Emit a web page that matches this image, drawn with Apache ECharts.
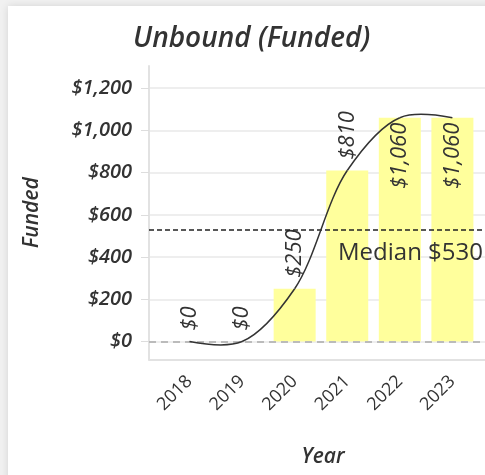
<!DOCTYPE html>
<html>
<head>
<meta charset="utf-8">
<script src="https://cdn.jsdelivr.net/npm/echarts@6/dist/echarts.min.js"></script>
<style>
html,body{margin:0;padding:0;background:#f1f1f1;width:485px;height:475px;overflow:hidden;}
#card{position:absolute;left:8px;top:6px;width:520px;height:520px;background:#fff;box-shadow:0 0 8px rgba(0,0,0,0.12);}
#chart{position:absolute;left:0;top:0;width:485px;height:475px;}
</style>
</head>
<body>
<div id="card"></div>
<div id="chart"></div>
<script>
const years = ['2018', '2019', '2020', '2021', '2022', '2023'];
const funded = [0, 0, 250, 810, 1060, 1060];
const yTicks = [0, 200, 400, 600, 800, 1000, 1200];
const medianValue = 530;
const insideLabelYears = ['2022', '2023'];

const fmt = v => '$' + Number(v).toLocaleString('en-US');
const FONT = '"Open Sans", sans-serif';

const barData = funded.map((v, i) => {
  const inside = insideLabelYears.includes(years[i]);
  return {
    value: [i, v],
    label: inside
      ? { position: 'insideTop', align: 'right', distance: 5 }
      : { position: 'top', align: 'left', distance: 11 }
  };
});
const lineData = funded.map((v, i) => [i, v]);

// plotly-like spline tangent (centripetal catmull-rom, smoothing 1)
function tangent(a, p, b, s) {
  const d1x = a[0] - p[0], d1y = a[1] - p[1];
  const d2x = b[0] - p[0], d2y = b[1] - p[1];
  const d1a = Math.pow(d1x * d1x + d1y * d1y, 0.25);
  const d2a = Math.pow(d2x * d2x + d2y * d2y, 0.25);
  const numx = (d2a * d2a * d1x - d1a * d1a * d2x) * s;
  const numy = (d2a * d2a * d1y - d1a * d1a * d2y) * s;
  const den1 = 3 * d2a * (d1a + d2a);
  const den2 = 3 * d1a * (d1a + d2a);
  return [
    [p[0] + (den1 && numx / den1), p[1] + (den1 && numy / den1)],
    [p[0] - (den2 && numx / den2), p[1] - (den2 && numy / den2)]
  ];
}

function renderSpline(params, api) {
  const i = params.dataIndexInside;
  const n = lineData.length;
  if (i >= n - 1) return null;
  const pt = j => api.coord([api.value(0, j), api.value(1, j)]);
  const tan = j => tangent(pt(j - 1), pt(j), pt(j + 1), 1);
  const p0 = pt(i), p1 = pt(i + 1);
  const shape = { x1: p0[0], y1: p0[1], x2: p1[0], y2: p1[1] };
  if (i === 0) {
    const c = tan(1)[0];
    shape.cpx1 = c[0]; shape.cpy1 = c[1];
  } else if (i === n - 2) {
    const c = tan(n - 2)[1];
    shape.cpx1 = c[0]; shape.cpy1 = c[1];
  } else {
    const c1 = tan(i)[1], c2 = tan(i + 1)[0];
    shape.cpx1 = c1[0]; shape.cpy1 = c1[1];
    shape.cpx2 = c2[0]; shape.cpy2 = c2[1];
  }
  return {
    type: 'bezierCurve',
    shape: shape,
    style: { stroke: '#333', lineWidth: 1.5, fill: 'none' }
  };
}

const chart = echarts.init(document.getElementById('chart'), null, { renderer: 'canvas' });
chart.setOption({
  backgroundColor: 'transparent',
  animation: false,
  title: {
    text: 'Unbound (Funded)',
    left: 128,
    top: 20,
    textStyle: { fontFamily: FONT, fontSize: 28, fontStyle: 'italic', fontWeight: 600, color: '#333' }
  },
  grid: { left: 149, top: 66, right: 0, bottom: 115.5, containLabel: false },
  xAxis: {
    type: 'value',
    min: -0.77, max: 5.62,
    name: 'Year',
    nameLocation: 'middle',
    nameGap: 87,
    nameTextStyle: { fontFamily: FONT, fontSize: 21, fontStyle: 'italic', fontWeight: 600, color: '#333', padding: [0, 0, 0, 12] },
    axisLine: { show: true, onZero: false, lineStyle: { color: '#e2e2e2', width: 2 } },
    axisTick: { show: false },
    splitLine: { show: false },
    axisLabel: {
      customValues: years.map((y, i) => i),
      formatter: v => years[Math.round(v)],
      rotate: 45,
      margin: 19,
      fontFamily: FONT, fontSize: 18, color: '#333'
    }
  },
  yAxis: {
    type: 'value',
    min: -85, max: 1305,
    name: 'Funded',
    nameLocation: 'middle',
    nameGap: 106,
    nameRotate: 90,
    nameTextStyle: { fontFamily: FONT, fontSize: 21, fontStyle: 'italic', fontWeight: 600, color: '#333' },
    axisLine: { show: true, onZero: false, lineStyle: { color: '#e2e2e2', width: 2 } },
    axisTick: { show: true, length: 8, customValues: yTicks, lineStyle: { color: '#dddddd', width: 1 } },
    splitLine: { show: true, lineStyle: { color: '#eeeeee', width: 2 } },
    axisLabel: {
      customValues: yTicks,
      formatter: fmt,
      margin: 17,
      fontFamily: FONT, fontSize: 20, fontStyle: 'italic', fontWeight: 600, color: '#333'
    }
  },
  series: [
    {
      type: 'bar',
      data: barData,
      barWidth: 42,
      itemStyle: { color: '#ffff9c' },
      label: {
        show: true,
        rotate: 90,
        verticalAlign: 'middle',
        formatter: p => fmt(p.value[1]),
        fontFamily: FONT, fontSize: 22, fontStyle: 'italic', color: '#333'
      },
      markLine: {
        silent: true,
        symbol: 'none',
        data: [
          {
            yAxis: 0,
            lineStyle: { color: '#bbbbbb', type: [7, 5], width: 2 },
            label: { show: false }
          },
          {
            yAxis: medianValue,
            lineStyle: { color: '#222', type: [5, 3], width: 1.5 },
            label: {
              show: true,
              position: 'insideEndBottom',
              formatter: 'Median ' + fmt(medianValue),
              distance: [2, 12],
              fontFamily: FONT, fontSize: 24, color: '#333'
            }
          }
        ]
      }
    },
    {
      type: 'custom',
      data: lineData,
      encode: { x: 0, y: 1 },
      renderItem: renderSpline,
      silent: true,
      z: 5
    }
  ]
});
</script>
</body>
</html>
